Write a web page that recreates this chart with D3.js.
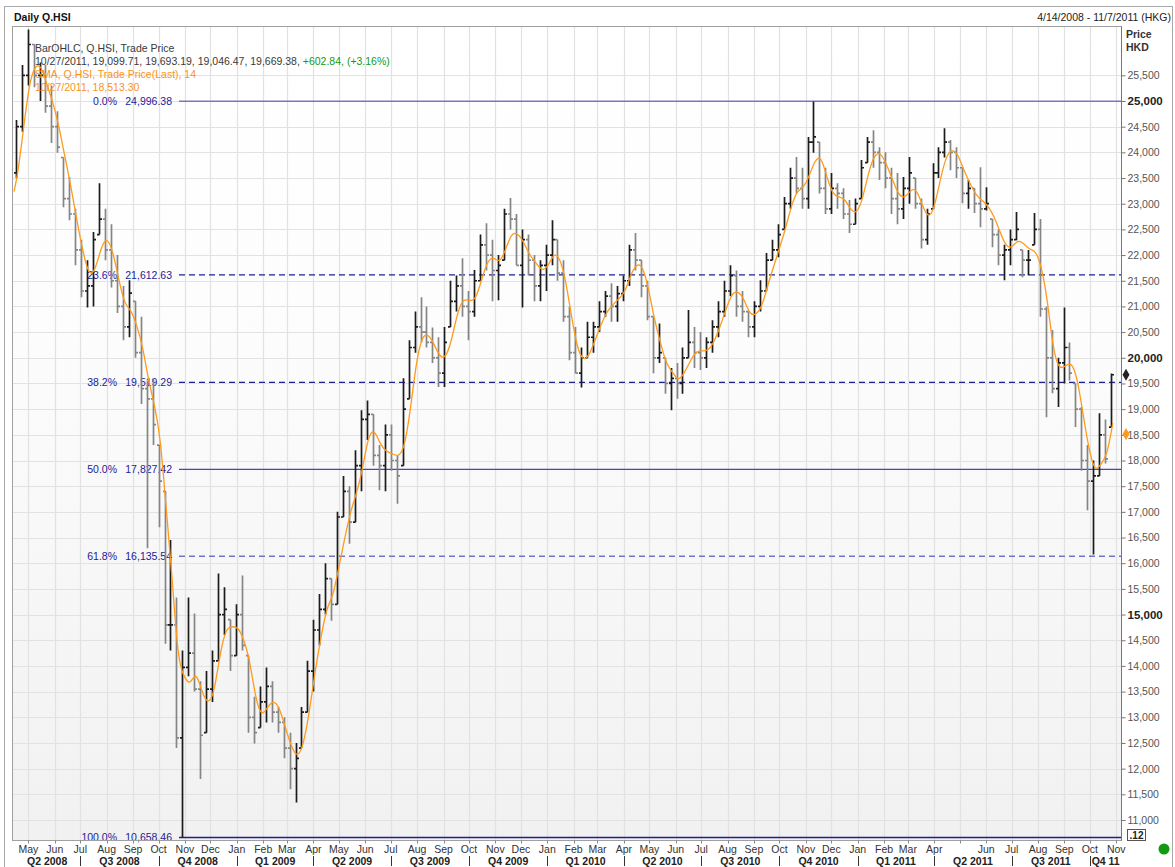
<!DOCTYPE html>
<html>
<head>
<meta charset="utf-8">
<script src="https://cdn.jsdelivr.net/npm/d3@7"></script>
<style>
  html, body { margin: 0; padding: 0; background: #fff; }
  svg { display: block; font-family: "Liberation Sans", Arial, sans-serif; }
</style>
</head>
<body>
<div id="chart"></div>
<script>
// ---- data (weekly bars, Mon 14 Apr 2008 .. Mon 24 Oct 2011) ----
const firstMonday = "2008-04-14";
const lastMonday = "2011-10-24";
const lastBarDate = "2011-10-27";
const firstOpen = 23600;
const seedCloses = [22800, 23300]; // two weeks before the first bar, only feed the SMA

const highs = [
  24630, 25700, 26390, 26100, 25750, 25700, 25300, 24800, 23900, 23520,
  22900, 22300, 21900, 22450, 23400, 22900, 22600, 22000, 21400, 21510,
  21100, 20800, 19560, 19600, 18300, 17400, 16450, 15330, 14300, 15330,
  15020, 13700, 13900, 14300, 15800, 15530, 14900, 15200, 15760, 14200,
  13400, 13600, 13970, 13700, 13200, 13000, 12700, 12500, 13200, 14100,
  14900, 15400, 16000, 15700, 17000, 17700, 17500, 18200, 18980, 19170,
  18900, 18300, 18700, 18700, 18100, 19600, 20340, 20900, 21180, 21000,
  20590, 20400, 20600, 21500, 21600, 21940, 21300, 21710, 22400, 22620,
  22300, 22000, 22900, 23110, 22800, 22500, 22400, 22000, 21900, 22200,
  22680, 22300, 21900, 21000, 20600, 20200, 20700, 20700, 21100, 21300,
  21450, 21400, 21600, 22200, 22430, 21900, 21500, 20800, 20670, 20000,
  19800, 19900, 20200, 20930, 20600, 20500, 20400, 20730, 21100, 21500,
  21800, 21700, 21300, 20900, 21100, 21510, 22040, 22300, 22600, 23130,
  23700, 23910, 23700, 24300, 24990, 24200, 23700, 23600, 23400, 23300,
  23070, 23100, 23850, 24300, 24430, 24100, 24000, 23700, 23600, 23520,
  23910, 23500, 23100, 22900, 23790, 24100, 24470, 24240, 24100, 23710,
  23460, 23300, 23710, 23320, 22700, 22500, 22200, 22500, 22840, 22100,
  22100, 22820, 22700, 21000, 20540, 20000, 20980, 20300, 19500, 19040,
  18300, 18000, 18920, 18800, 19693
];
const lows = [
  23500, 24400, 25300, 25270, 25000, 24770, 24180, 23990, 22930, 22680,
  21800, 21180, 20980, 21000, 22400, 21900, 21370, 20870, 20340, 20400,
  20000, 19100, 16290, 18300, 16700, 14430, 14300, 12400, 10660, 13800,
  13500, 11800, 12700, 13300, 14100, 14600, 13900, 14200, 14300, 12700,
  12490, 12800, 12900, 12900, 12700, 12200, 11600, 11340, 12400, 13100,
  13500, 14400, 15000, 14880, 15200, 16900, 16380, 16800, 17400, 18400,
  17900, 17420, 17400, 17800, 17160, 17900, 19200, 20100, 20300, 20200,
  19900, 19430, 19430, 20600, 20900, 20800, 20340, 20800, 21500, 21700,
  21100, 21120, 21900, 22500, 21800, 20980, 21600, 21100, 21100, 21300,
  21800, 21500, 20700, 19950, 19700, 19420, 20000, 20100, 20500, 20800,
  20700, 20700, 21100, 21400, 21700, 21180, 20730, 19700, 19900, 19300,
  18980, 19200, 19300, 20000, 19800, 19760, 19800, 20100, 20400, 20800,
  21200, 20800, 20700, 20400, 20400, 20900, 21300, 21900, 21960, 22500,
  22900, 23200, 22900, 22900, 23990, 23200, 22800, 22800, 22900, 22700,
  22430, 22600, 23100, 23800, 23700, 23460, 23300, 22800, 22600, 22700,
  23000, 22900, 22130, 22200, 22900, 23500, 23900, 23650, 23500, 23010,
  22900, 22820, 22540, 22870, 22150, 21800, 21510, 21800, 22290, 21570,
  21600, 22200, 20800, 18840, 19310, 19040, 19500, 19560, 18650, 17800,
  17030, 16170, 17700, 17940, 18650
];
const closes = [
  24500, 25500, 26100, 25500, 25500, 24900, 24500, 24100, 23100, 22800,
  22100, 21300, 21400, 22300, 22700, 22100, 21500, 21000, 20600, 21260,
  20100, 19400, 19200, 18700, 17600, 14800, 14800, 12600, 13970, 14250,
  13550, 12650, 13550, 14100, 15000, 15100, 14200, 15000, 14400, 13000,
  12700, 13300, 13600, 13100, 12900, 12400, 12000, 12200, 13100, 13900,
  14700, 15100, 15700, 15200, 16900, 17400, 16800, 17900, 18800, 18900,
  18100, 17900, 18500, 18000, 17700, 19000, 20200, 20600, 20500, 20300,
  20000, 19700, 20300, 21100, 21400, 21000, 20900, 21500, 22200, 22000,
  21700, 21800, 22800, 22700, 21800, 22300, 21900, 21400, 21800, 22000,
  22300, 21650, 20800, 20100, 19700, 20000, 20400, 20600, 20900, 21200,
  21000, 21250, 21500, 22100, 21900, 21400, 20800, 20000, 20100, 19500,
  19600, 19500, 20000, 20300, 20100, 20000, 20300, 20600, 20900, 21300,
  21600, 21000, 20900, 20600, 21000, 21300, 21900, 22100, 22400, 23000,
  23500, 23300, 23100, 24200, 24300, 23300, 22900, 23300, 23200, 22800,
  22600, 23000, 23700, 24200, 24000, 23800, 23500, 23100, 22900, 23300,
  23600, 23000, 22300, 22800, 23600, 24000, 24200, 24000, 23700, 23200,
  23300, 23000, 22900, 23000, 22400, 22000, 22100, 22300, 22500, 21900,
  21900, 22500, 20950, 20000, 19400, 19900, 20200, 19700, 19000, 18000,
  17600, 17700, 18500, 18030, 19669.38
];
const smaWeeks = 3; // ~14 trading days

// legend values (last bar)
const lastDate = "10/27/2011";
const lastOhlc = [19099.71, 19693.19, 19046.47, 19669.38];
const lastChange = [602.84, 3.16];
const lastSma = 18513.30;

// Fibonacci retracement
const fibPcts = ["0.0%", "23.6%", "38.2%", "50.0%", "61.8%", "100.0%"];
const fibValues = [24996.38, 21612.63, 19519.29, 17827.42, 16135.54, 10658.46];

// axes
const priceTicks = d3.range(11000, 25501, 500);
const monthLabels = [
  "May","Jun","Jul","Aug","Sep","Oct","Nov","Dec",
  "Jan","Feb","Mar","Apr","May","Jun","Jul","Aug","Sep","Oct","Nov","Dec",
  "Jan","Feb","Mar","Apr","May","Jun","Jul","Aug","Sep","Oct","Nov","Dec",
  "Jan","Feb","Mar","Apr","","Jun","Jul","Aug","Sep","Oct","Nov"
];
const quarterLabels = [
  "Q2 2008","Q3 2008","Q4 2008","Q1 2009","Q2 2009","Q3 2009","Q4 2009",
  "Q1 2010","Q2 2010","Q3 2010","Q4 2010","Q1 2011","Q2 2011","Q3 2011","Q4 11"
];

// ---- layout ----
const W = 1175, H = 867;
const P = { left: 12.5, top: 26.5, right: 1121.5, bottom: 840.5 };
const FS = 10.5;
const parse = d3.utcParse("%Y-%m-%d");
const fmt = d3.format(",.2f");

const svg = d3.select("#chart").append("svg").attr("width", W).attr("height", H);
const defs = svg.append("defs");
const grad = defs.append("linearGradient").attr("id", "bg").attr("x1", 0).attr("x2", 0).attr("y1", 0).attr("y2", 1);
grad.append("stop").attr("offset", "0%").attr("stop-color", "#ffffff");
grad.append("stop").attr("offset", "35%").attr("stop-color", "#fdfdfd");
grad.append("stop").attr("offset", "100%").attr("stop-color", "#f1f1f1");
defs.append("clipPath").attr("id", "clip").append("rect")
  .attr("x", P.left).attr("y", P.top).attr("width", P.right - P.left).attr("height", P.bottom - P.top);

// outer frame + header
svg.append("rect").attr("x", 4.5).attr("y", 6.5).attr("width", 1168).attr("height", 872)
  .attr("fill", "#fff").attr("stroke", "#a8a8a8");
svg.append("text").attr("x", 14).attr("y", 21).attr("font-size", FS).attr("font-weight", "bold")
  .attr("fill", "#111").text("Daily Q.HSI");
svg.append("text").attr("x", 1171).attr("y", 21).attr("font-size", FS).attr("text-anchor", "end")
  .attr("fill", "#222").text("4/14/2008 - 11/7/2011 (HKG)");

// plot background
svg.append("rect").attr("x", P.left).attr("y", P.top).attr("width", P.right - P.left)
  .attr("height", P.bottom - P.top).attr("fill", "url(#bg)");

// scales
const weeks = d3.utcMonday.range(parse(firstMonday), d3.utcDay.offset(parse(lastMonday), 1));
const x = d3.scaleUtc().domain([parse(firstMonday), parse(lastBarDate)]).range([14, 1112]);
const y = d3.scaleLinear().domain([11000, 25000]).range([820, 101]);

const months = d3.utcMonth.range(parse("2008-05-01"), parse("2011-11-02"));
const quarters = d3.utcMonth.every(3).range(parse("2008-04-01"), parse("2011-12-01"));

// grid
const grid = svg.append("g").attr("stroke", "#e2e2e2").attr("stroke-width", 1.2);
grid.selectAll("line.h").data(priceTicks).join("line")
  .attr("x1", P.left).attr("x2", P.right)
  .attr("y1", (d) => Math.round(y(d)) + 0.5).attr("y2", (d) => Math.round(y(d)) + 0.5);
grid.selectAll("line.v").data(months).join("line")
  .attr("x1", (d) => Math.round(x(d)) + 0.5).attr("x2", (d) => Math.round(x(d)) + 0.5)
  .attr("y1", P.top).attr("y2", P.bottom);

// fibonacci levels
const fibStyle = [
  { c: "#7676c8", dash: null, w: 1.6 },
  { c: "#1f1f8f", dash: "6,4", w: 1.3 },
  { c: "#1f1f8f", dash: "6,4", w: 1.3 },
  { c: "#4646b6", dash: null, w: 1.4 },
  { c: "#7474c6", dash: "6,4", w: 1.6 },
  { c: "#1f1f8f", dash: null, w: 1.4 }
];
const fib = svg.append("g");
fib.selectAll("line").data(fibValues).join("line")
  .attr("x1", 179).attr("x2", P.right)
  .attr("y1", (d) => y(d)).attr("y2", (d) => y(d))
  .attr("stroke", (d, i) => fibStyle[i].c)
  .attr("stroke-width", (d, i) => fibStyle[i].w)
  .attr("stroke-dasharray", (d, i) => fibStyle[i].dash);
fib.selectAll("text.val").data(fibValues).join("text").attr("class", "val")
  .attr("x", 172).attr("y", (d) => y(d)).attr("dy", "0.35em")
  .attr("text-anchor", "end").attr("font-size", FS).attr("fill", "#1c1c98")
  .text((d) => fmt(d));
fib.selectAll("text.pct").data(fibPcts).join("text").attr("class", "pct")
  .attr("x", 117).attr("y", (d, i) => y(fibValues[i])).attr("dy", "0.35em")
  .attr("text-anchor", "end").attr("font-size", FS).attr("fill", "#1c1c98")
  .text((d) => d);

// bars
const bars = weeks.map((d, i) => ({
  date: d,
  high: highs[i], low: lows[i], close: closes[i],
  open: Math.max(lows[i], Math.min(highs[i], i === 0 ? firstOpen : closes[i - 1]))
}));
const plotG = svg.append("g").attr("clip-path", "url(#clip)");
plotG.append("g").selectAll("path").data(bars).join("path")
  .attr("d", (d) => {
    const cx = Math.round(x(d3.utcDay.offset(d.date, 2))) + 0.5;
    return `M${cx},${y(d.high)}V${y(d.low)}M${cx - 2.5},${y(d.open)}H${cx}M${cx},${y(d.close)}H${cx + 2.5}`;
  })
  .attr("fill", "none")
  .attr("stroke", (d) => (d.close >= d.open ? "#1c1c1c" : "#858585"))
  .attr("stroke-width", 1.7);

// moving average of closes
const allCloses = seedCloses.concat(closes);
const sma = bars.map((d, i) => {
  const j = i + seedCloses.length;
  const win = allCloses.slice(Math.max(0, j - smaWeeks + 1), j + 1);
  return { date: d3.utcDay.offset(d.date, 4), v: d3.mean(win) };
});
sma.unshift({ date: parse(firstMonday), v: d3.mean(seedCloses.concat([firstOpen])) });
plotG.append("path").datum(sma)
  .attr("d", d3.line().x((d) => x(d.date)).y((d) => y(d.v)).curve(d3.curveBasis))
  .attr("fill", "none").attr("stroke", "#ff9a1a").attr("stroke-width", 1.3);

// legend
const leg = svg.append("g").attr("font-size", FS);
leg.append("text").attr("x", 35).attr("y", 52).attr("fill", "#3a3a3a").text("BarOHLC, Q.HSI, Trade Price");
const l2 = leg.append("text").attr("x", 35).attr("y", 65).attr("fill", "#3a3a3a");
l2.append("tspan").text(`${lastDate}, ${lastOhlc.map(fmt).join(", ")}, `);
l2.append("tspan").attr("fill", "#159a15").text(`+${fmt(lastChange[0])}, (+${lastChange[1].toFixed(2)}%)`);
leg.append("text").attr("x", 35).attr("y", 78).attr("fill", "#f7941d").text("SMA, Q.HSI, Trade Price(Last),  14");
leg.append("text").attr("x", 35).attr("y", 91).attr("fill", "#f7941d").text(`${lastDate}, ${fmt(lastSma)}`);

// plot border
svg.append("rect").attr("x", P.left).attr("y", P.top).attr("width", P.right - P.left)
  .attr("height", P.bottom - P.top).attr("fill", "none").attr("stroke", "#a0a0a0");

// right price axis
const yAxis = svg.append("g").attr("transform", `translate(${P.right},0)`)
  .call(d3.axisRight(y).tickValues(priceTicks).tickSize(4).tickPadding(2).tickFormat(d3.format(",")));
yAxis.select(".domain").attr("stroke", "#777").attr("d", `M0,${P.top}V${P.bottom}`);
yAxis.selectAll(".tick line").attr("stroke", "#777");
yAxis.selectAll(".tick text")
  .attr("font-family", "Liberation Sans, Arial, sans-serif")
  .attr("font-size", (d) => (d % 5000 === 0 ? 11.5 : FS))
  .attr("font-weight", (d) => (d % 5000 === 0 ? "bold" : "normal"))
  .attr("fill", (d) => (d % 5000 === 0 ? "#222" : "#555"));
svg.append("text").attr("x", 1126).attr("y", 38).attr("font-size", FS).attr("font-weight", "bold")
  .attr("fill", "#333").text("Price");
svg.append("text").attr("x", 1126).attr("y", 51).attr("font-size", FS).attr("font-weight", "bold")
  .attr("fill", "#333").text("HKD");

// last value markers
const diamond = d3.symbol().type(d3.symbolDiamond).size(42);
svg.append("path").attr("d", diamond).attr("transform", `translate(1126,${y(lastOhlc[3])})`).attr("fill", "#222");
svg.append("path").attr("d", diamond).attr("transform", `translate(1126,${y(lastSma)})`).attr("fill", "#ff9a1a");

// bottom time axis
const xa = svg.append("g");
xa.selectAll("line.mt").data(months).join("line")
  .attr("x1", (d) => Math.round(x(d)) + 0.5).attr("x2", (d) => Math.round(x(d)) + 0.5)
  .attr("y1", P.bottom).attr("y2", P.bottom + 3).attr("stroke", "#888");
xa.selectAll("text.m").data(months).join("text")
  .attr("x", (d) => x(d)).attr("y", 853).attr("text-anchor", "middle")
  .attr("font-size", FS).attr("fill", "#333")
  .text((d, i) => monthLabels[i]);
const qEdges = quarters.map((d) => Math.max(14, Math.min(P.right, x(d)))).concat([P.right]);
xa.selectAll("line.q").data(quarters.slice(1, quarterLabels.length)).join("line")
  .attr("x1", (d) => Math.round(x(d)) + 0.5).attr("x2", (d) => Math.round(x(d)) + 0.5)
  .attr("y1", 856).attr("y2", 866).attr("stroke", "#333");
xa.selectAll("text.q").data(quarterLabels).join("text")
  .attr("x", (d, i) => (qEdges[i] + qEdges[i + 1]) / 2)
  .attr("y", 865).attr("text-anchor", "middle")
  .attr("font-size", FS).attr("font-weight", "bold").attr("fill", "#222")
  .text((d) => d);

// corner box + status dot
svg.append("rect").attr("x", 1127.5).attr("y", 829.5).attr("width", 18).attr("height", 11)
  .attr("fill", "#fff").attr("stroke", "#555");
svg.append("text").attr("x", 1136.5).attr("y", 838.5).attr("text-anchor", "middle")
  .attr("font-size", 10).attr("font-weight", "bold").attr("fill", "#222").text(".12");
svg.append("circle").attr("cx", 1164).attr("cy", 849).attr("r", 5.5).attr("fill", "#129a12");
</script>
</body>
</html>
